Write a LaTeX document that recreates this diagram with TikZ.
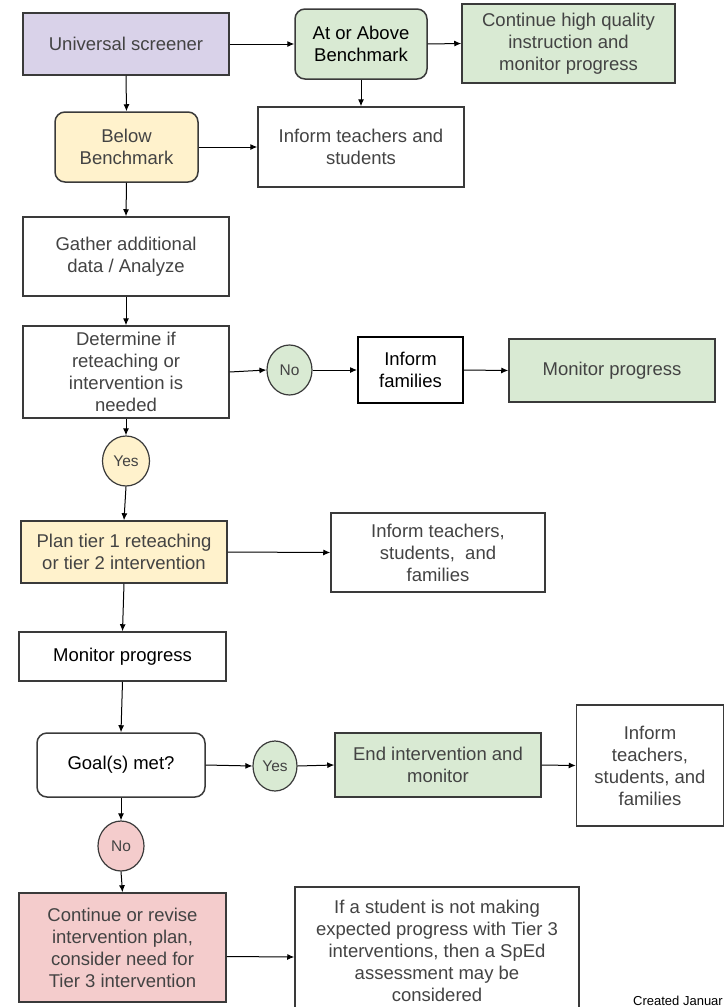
\documentclass[tikz,border=0pt]{standalone}
\usepackage{fontspec}
\setmainfont{Liberation Sans}
\usetikzlibrary{arrows.meta,shapes.geometric}
\definecolor{lav}{HTML}{D9D2E9}
\definecolor{grn}{HTML}{D9EAD3}
\definecolor{yel}{HTML}{FFF2CC}
\definecolor{red}{HTML}{F4CCCC}
\definecolor{bord}{HTML}{3A3A3A}
\definecolor{txt}{HTML}{434343}
\begin{document}
\begin{tikzpicture}[x=1pt,y=-1pt,
  box/.style={draw=bord, line width=1.5pt, fill=white, text=txt, align=center, inner sep=0pt,
    font=\fontsize{18.5}{22}\selectfont},
  sz/.style 2 args={minimum width=#1pt, minimum height=#2pt},
  rbox/.style={box, rounded corners=10pt},
  circ/.style={ellipse, draw=bord, line width=1.2pt, text=txt, inner sep=0pt,
    font=\fontsize{15.5}{17}\selectfont, minimum width=45pt, minimum height=50pt},
  arr/.style={-{Latex[length=7pt,width=6pt]}, line width=1pt, draw=black}]
\useasboundingbox (0,0) rectangle (724,1007);
% row 1
\node[box, fill=lav, sz={206}{62}] (univ) at (126,44) {Universal screener};
\node[rbox, fill=grn, text=black, sz={132}{70}] (above) at (361,44) {At or Above\\Benchmark};
\node[box, fill=grn, sz={213}{79}] (cont) at (568.5,43.5) {Continue high quality\\instruction and\\monitor progress};
% row 2
\node[rbox, fill=yel, sz={143}{70}] (below) at (126.5,147) {Below\\Benchmark};
\node[box, sz={206}{80}] (infTS) at (361,147) {Inform teachers and\\students};
% gather / determine
\node[box, sz={206}{79}] (gather) at (126,256.5) {Gather additional\\data / Analyze};
\node[box, sz={206}{92}] (determ) at (126,372) {Determine if\\reteaching or\\intervention is\\needed};
\node[circ, fill=grn] (no1) at (289.5,370) {No};
\node[box, draw=black, line width=2pt, text=black, sz={105}{66}] (infam) at (410.5,370) {Inform\\families};
\node[box, fill=grn, sz={206}{63}] (mon1) at (612,370.5) {Monitor progress};
\node[circ, fill=yel, minimum width=47pt] (yes1) at (126,461) {Yes};
% plan
\node[box, fill=yel, sz={206}{62}] (plan) at (124,552) {Plan tier 1 reteaching\\or tier 2 intervention};
\node[box, sz={214}{79}] (infTSF) at (438,552.5) {Inform teachers,\\students,\ \ and\\families};
\node[box, text=black, sz={207}{49}] (mon2) at (122.5,656.5) {Monitor progress};
% goal
\node[rbox, text=black, sz={168}{64}] (goal) at (121,765) {Goal(s) met?};
\node[circ, fill=grn, minimum width=44pt] (yes2) at (275,766) {Yes};
\node[box, fill=grn, sz={206}{64}] (endi) at (438,765) {End intervention and\\monitor};
\node[box, sz={147}{121}] (infR) at (650,765.5) {Inform\\teachers,\\students, and\\families};
\node[circ, fill=red, minimum width=46pt] (no2) at (121,846) {No};
\node[box, fill=red, sz={207}{109}] (contrev) at (122.5,947.5) {Continue or revise\\intervention plan,\\consider need for\\Tier 3 intervention};
\node[box, sz={284}{128}] (sped) at (437,951) {If a student is not making\\expected progress with Tier 3\\interventions, then a SpEd\\assessment may be\\considered};
\node[anchor=base west, inner sep=0pt, font=\fontsize{13}{15}\selectfont] (credit) at (633,1005) {Created Januar};
% connectors
\draw[arr] (univ.east) -- (above.west);
\draw[arr] (above.east) -- (cont.west);
\draw[arr] (above.south) -- (infTS.north);
\draw[arr] (univ.south) -- (below.north);
\draw[arr] (below.east) -- (infTS.west);
\draw[arr] (below.south) -- (gather.north);
\draw[arr] (gather.south) -- (determ.north);
\draw[arr] (determ.east) -- (no1.west);
\draw[arr] (no1.east) -- (infam.west);
\draw[arr] (infam.east) -- (mon1.west);
\draw[arr] (determ.south) -- (yes1.north);
\draw[arr] (yes1.south) -- (plan.north);
\draw[arr] (plan.east) -- (infTSF.west);
\draw[arr] (plan.south) -- (mon2.north);
\draw[arr] (mon2.south) -- (goal.north);
\draw[arr] (goal.east) -- (yes2.west);
\draw[arr] (yes2.east) -- (endi.west);
\draw[arr] (endi.east) -- (infR.west);
\draw[arr] (goal.south) -- (no2.north);
\draw[arr] (no2.south) -- (contrev.north);
\draw[arr] ([yshift=-9pt]contrev.east) -- ([yshift=-6pt]sped.west);
\end{tikzpicture}
\end{document}
